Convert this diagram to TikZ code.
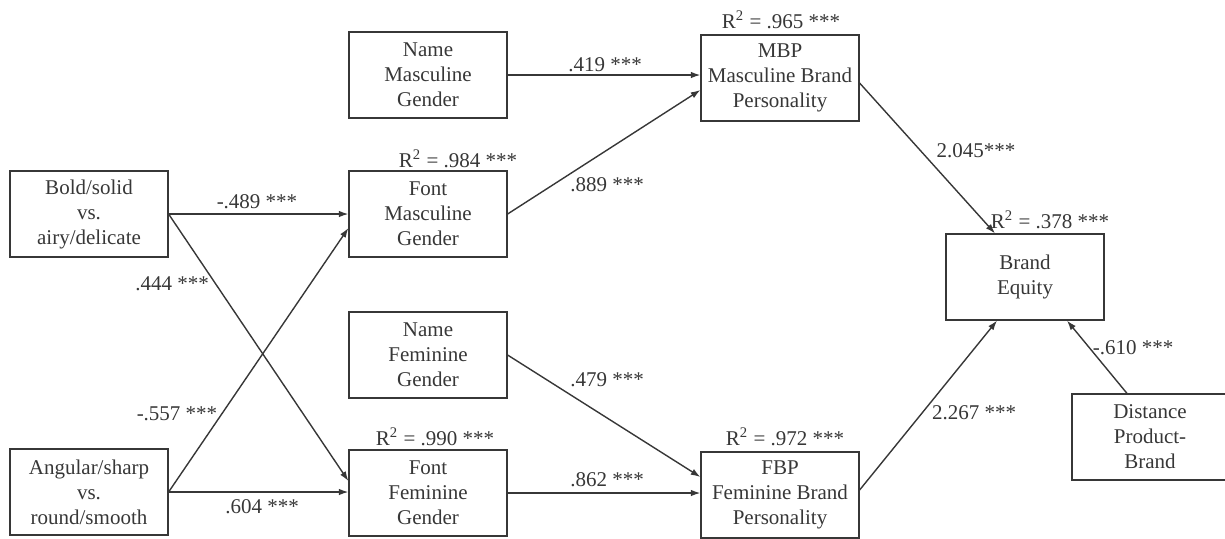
\documentclass[tikz,border=0pt]{standalone}
\usepackage{fontspec}
\setmainfont{Liberation Serif}
\usepackage{tikz}
\usetikzlibrary{arrows.meta}
\usetikzlibrary{calc}
\definecolor{ink}{RGB}{55,55,55}
\tikzset{box/.style={draw=ink,line width=.6pt,rectangle,align=center,minimum width=79pt,minimum height=43pt,inner sep=1pt,text=ink,font=\fontsize{10.5}{12.5}\selectfont},
 lab/.style={text=ink,inner sep=0pt,font=\fontsize{10.5}{12.5}\selectfont},
 path/.style={->,draw=ink,line width=.7pt}}
\newcommand{\rsq}[1]{R\textsuperscript{2} = #1 ***}
\begin{document}
\begin{tikzpicture}[x=.5pt,y=-.5pt,>={Latex[length=4.8pt,width=3.3pt]}]
\useasboundingbox (0,0) rectangle (1225,538);
\draw node [box] (BS) at (89,214)   {Bold/solid\\vs.\\airy/delicate};
\draw node [box] (AS) at (89,492)   {Angular/sharp\\vs.\\round/smooth};
\draw node [box] (NM) at (428,75)   {Name\\Masculine\\Gender};
\draw node [box] (FM) at (428,214)  {Font\\Masculine\\Gender};
\draw node [box] (NF) at (428,355)  {Name\\Feminine\\Gender};
\draw node [box] (FF) at (428,493)  {Font\\Feminine\\Gender};
\draw node [box] (MBP) at (780,78)  {MBP\\Masculine Brand\\Personality};
\draw node [box] (FBP) at (780,495) {FBP\\Feminine Brand\\Personality};
\draw node [box] (BE) at (1025,277) {Brand\\Equity};
\draw node [box,minimum width=78pt] (DPB) at (1150,437) {Distance\\Product-\\Brand};
% R^2 values
\draw node [lab] (R965) at (781,20)  {\rsq{.965}};
\draw node [lab] (R984) at (458,159) {\rsq{.984}};
\draw node [lab] (R990) at (435,437) {\rsq{.990}};
\draw node [lab] (R972) at (785,437) {\rsq{.972}};
\draw node [lab] (R378) at (1050,220) {\rsq{.378}};
% path coefficients
\draw node [lab] (C489) at (257,202)  {-.489 ***};
\draw node [lab] (C444) at (172,284)  {.444 ***};
\draw node [lab] (C557) at (177,414)  {-.557 ***};
\draw node [lab] (C604) at (262,507)  {.604 ***};
\draw node [lab] (C419) at (605,65)   {.419 ***};
\draw node [lab] (C889) at (607,185)  {.889 ***};
\draw node [lab] (C479) at (607,380)  {.479 ***};
\draw node [lab] (C862) at (607,480)  {.862 ***};
\draw node [lab] (C2045) at (976,151) {2.045***};
\draw node [lab] (C2267) at (974,413) {2.267 ***};
\draw node [lab] (C610) at (1133,348) {-.610 ***};
\draw [path] (BS.east) -- (FM.west);
\draw [path] (BS.east) -- ($ (FF.west) + (0,-12) $);
\draw [path] (AS.east) -- ($ (FM.west) + (0,14) $);
\draw [path] (AS.east) -- (FF.west |- AS.east);
\draw [path] (NM.east) -- (MBP.west |- NM.east);
\draw [path] (FM.east) -- ($ (MBP.west) + (0,12) $);
\draw [path] (NF.east) -- ($ (FBP.west) + (0,-18) $);
\draw [path] (FF.east) -- (FBP.west |- FF.east);
\draw [path] ($ (MBP.east) + (0,5) $) -- ($ (BE.north) + (-30,0) $);
\draw [path] ($ (FBP.east) + (0,-5) $) -- ($ (BE.south) + (-28,0) $);
\draw [path] ($ (DPB.north) + (-23,0) $) -- ($ (BE.south) + (42,0) $);
\end{tikzpicture}
\end{document}
